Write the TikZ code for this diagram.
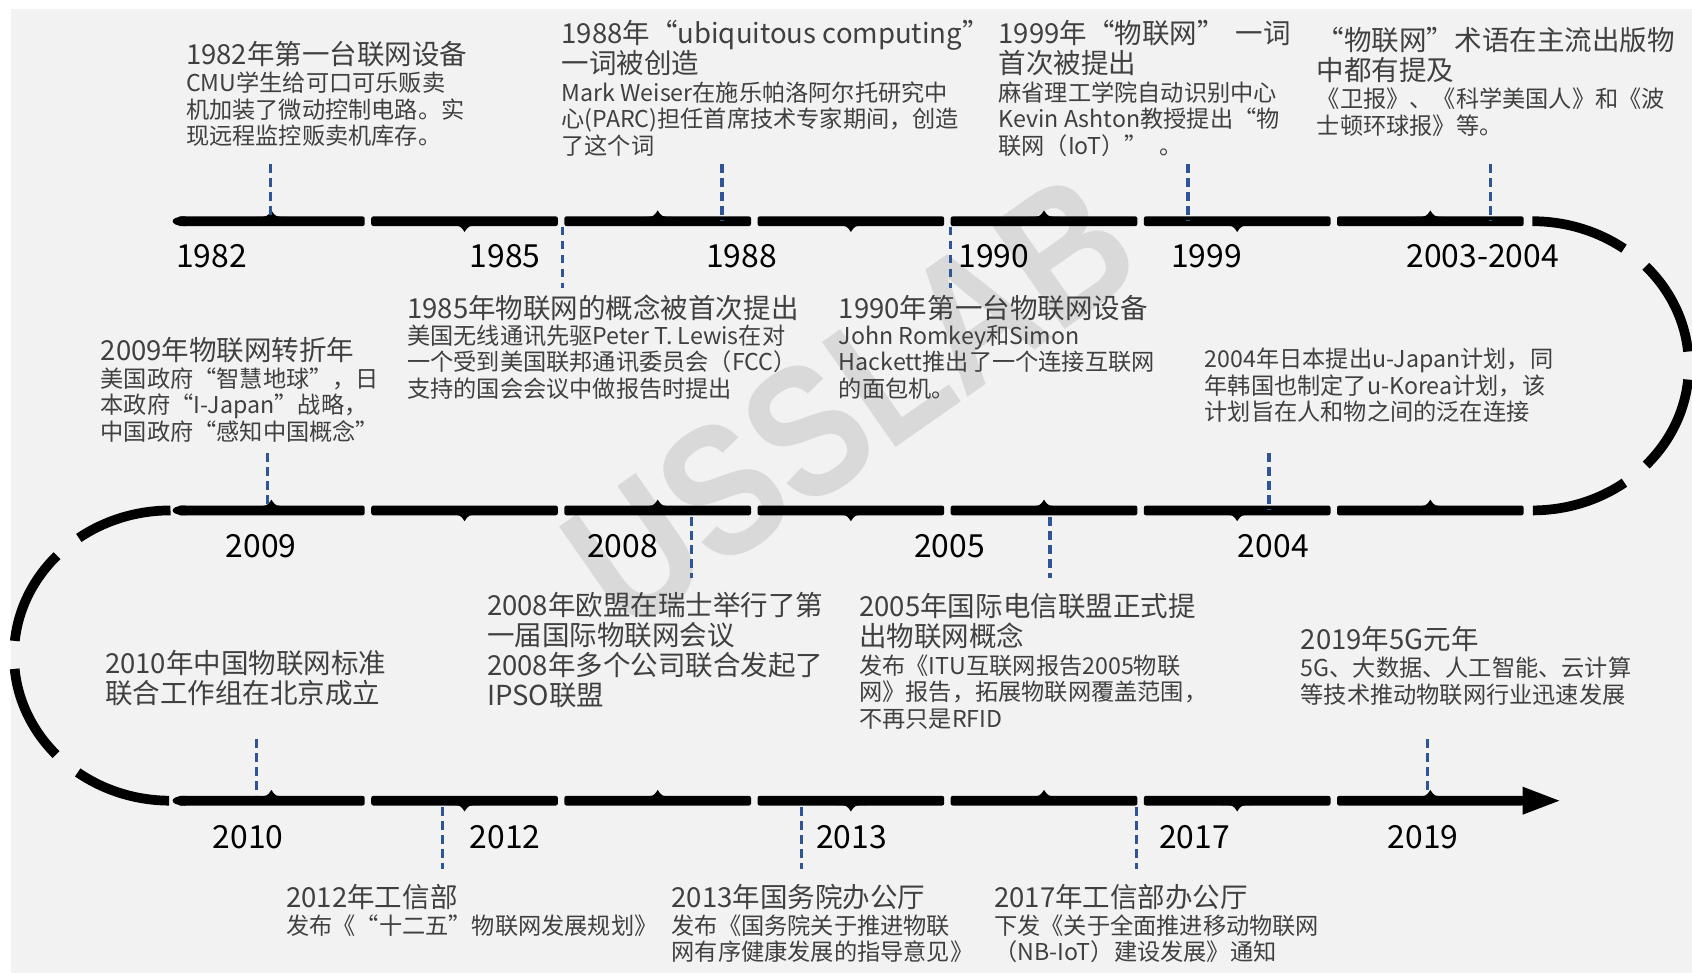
\documentclass[tikz,border=0pt]{standalone}
\usepackage{fontspec}
\setmainfont{Noto Sans CJK SC}
\newfontfamily\markfont{Liberation Sans}
\usetikzlibrary{positioning}

\definecolor{pagebg}{HTML}{F2F2F2}
\definecolor{txtgray}{HTML}{404040}
\definecolor{guideblue}{HTML}{2F5597}
\definecolor{markgray}{HTML}{D9D9D9}

% text blocks are placed by the baseline of their last line
\tikzset{
  evhead/.style={anchor=base west, align=left, inner sep=0pt, text=txtgray,
                 font=\fontsize{12.75}{14}\selectfont},
  evnote/.style={anchor=base west, align=left, inner sep=0pt, text=txtgray,
                 font=\fontsize{10.75}{12.25}\selectfont},
  yearlbl/.style={anchor=base, inner sep=0pt, font=\fontsize{14.75}{16}\selectfont},
  guide/.style={draw=guideblue, line width=1.5pt, dash pattern=on 4pt off 2.5pt},
  loopline/.style={draw=black, line width=4.5pt, dash pattern=on 45pt off 13pt},
}

\begin{document}
\begin{tikzpicture}[x=0.5pt, y=-0.5pt]
    \useasboundingbox (0,0) rectangle (1568,902);
    \fill[pagebg] (10,8) rectangle (1568,902);

    % watermark
    \node[rotate=35, yscale=1.2, text=markgray,
          font=\markfont\bfseries\fontsize{72}{72}\selectfont] (wm) at (788,372) {USSLAB};

    % the three rows of the time line, bumps alternate up / down
    \foreach \row in {205,473,742}{
        \foreach \k in {0,...,6}{
            \pgfmathsetmacro\xa{165+179*\k}
            \pgfmathsetmacro\xb{338+179*\k}
            \pgfmathsetmacro\xm{251.5+179*\k}
            \pgfmathsetmacro\ye{\row+4*(2*mod(\k,2)-1)}
            \pgfmathsetmacro\yt{\row+10*(2*mod(\k,2)-1)}
            \fill[rounded corners=1pt] (\xa,\row-4.5) rectangle (\xb,\row+4.5);
            \fill (\xm-14,\ye) .. controls (\xm-4,\ye) .. (\xm,\yt)
                  .. controls (\xm+4,\ye) .. (\xm+14,\ye) -- cycle;
        }
        \fill (172,\row-4.5) .. controls (163,\row-4.5) and (160,\row-2) .. (160,\row)
              .. controls (160,\row+2) and (163,\row+4.5) .. (172,\row+4.5) -- cycle;
    }

    % turns between the rows
    \coordinate (r1) at (1420,205);
    \coordinate (l2) at (158,473);
    \draw[loopline] (r1) arc[start angle=90, end angle=-90, x radius=72.5pt, y radius=67pt];
    \draw[loopline] (l2) arc[start angle=90, end angle=270, x radius=72.5pt, y radius=67.25pt];

    % arrow head
    \coordinate (tip) at (1445,742);
    \fill (1411,729) -- (tip) -- (1411,755) -- cycle;

    % years
    \foreach \x/\y/\t [count=\i] in {196/248/1982, 468/248/1985, 687/248/1988,
            921/248/1990, 1118/248/1999, 1374/248/2003-2004,
            242/517/2009, 577/517/2008, 880/517/2005, 1180/517/2004,
            230/786/2010, 468/786/2012, 789/786/2013, 1107/786/2017, 1319/786/2019}
        \node[yearlbl] (yr\i) at (\x,\y) {\t};

    % dashed guides
    \foreach \x/\ya/\yb [count=\i] in {251/152/200, 521/210/267, 669/152/205,
            881/210/267, 1101/152/205, 1381/152/205,
            248/420/468, 641/479/536, 973/479/536, 1176/420/473,
            238/685/737, 410/748/805, 743/748/805, 1053/748/805, 1323/685/737}{
        \coordinate (ga\i) at (\x,\ya);
        \coordinate (gb\i) at (\x,\yb);
        \draw[guide] (ga\i) -- (gb\i);
    }

    % row 1
    \node[evhead] (h1982) at (172,60) {1982年第一台联网设备};
    \node[evnote] (n1982) at (172,134) {CMU学生给可口可乐贩卖\\机加装了微动控制电路。实\\现远程监控贩卖机库存。};
    \node[evhead] (h1988) at (520,68) {1988年“ubiquitous computing”\\一词被创造};
    \node[evnote] (n1988) at (520,143) {Mark Weiser在施乐帕洛阿尔托研究中\\心(PARC)担任首席技术专家期间，创造\\了这个词};
    \node[evhead] (h1999) at (925,68) {1999年“物联网”\hspace{.4em}一词\\首次被提出};
    \node[evnote] (n1999) at (925,143) {麻省理工学院自动识别中心\\Kevin Ashton教授提出“物\\联网（IoT）”\hspace{.5em}。};
    \node[evhead] (h2003) at (1220,75) {“物联网”术语在主流出版物\\中都有提及};
    \node[evnote] (n2003) at (1220,124.5) {《卫报》、《科学美国人》和《波\\士顿环球报》等。};
    \node[evhead] (h1985) at (377,295) {1985年物联网的概念被首次提出};
    \node[evnote] (n1985) at (377,368) {美国无线通讯先驱Peter T. Lewis在对\\一个受到美国联邦通讯委员会（FCC）\\支持的国会会议中做报告时提出};
    \node[evhead] (h1990) at (777,295) {1990年第一台物联网设备};
    \node[evnote] (n1990) at (777,368) {John Romkey和Simon\\Hackett推出了一个连接互联网\\的面包机。};

    % row 2
    \node[evhead] (h2009) at (93,334) {2009年物联网转折年};
    \node[evnote] (n2009) at (93,408) {美国政府“智慧地球”，日\\本政府“I-Japan”战略，\\中国政府“感知中国概念”};
    \node[evnote] (n2004) at (1116,390) {2004年日本提出u-Japan计划，同\\年韩国也制定了u-Korea计划，该\\计划旨在人和物之间的泛在连接};
    \node[evhead] (h2008) at (451,654) {2008年欧盟在瑞士举行了第\\一届国际物联网会议\\2008年多个公司联合发起了\\IPSO联盟};
    \node[evhead] (h2005) at (796,599) {2005年国际电信联盟正式提\\出物联网概念};
    \node[evnote] (n2005) at (796,674) {发布《ITU互联网报告2005物联\\网》报告，拓展物联网覆盖范围，\\不再只是RFID};

    % row 3
    \node[evhead] (h2010) at (97,652) {2010年中国物联网标准\\联合工作组在北京成立};
    \node[evhead] (h2019) at (1205,602) {2019年5G元年};
    \node[evnote] (n2019) at (1205,651.5) {5G、大数据、人工智能、云计算\\等技术推动物联网行业迅速发展};
    \node[evhead] (h2012) at (265,841) {2012年工信部};
    \node[evnote] (n2012) at (265,866) {发布《“十二五”物联网发展规划》};
    \node[evhead] (h2013) at (622,841) {2013年国务院办公厅};
    \node[evnote] (n2013) at (622,890.5) {发布《国务院关于推进物联\\网有序健康发展的指导意见》};
    \node[evhead] (h2017) at (921,841) {2017年工信部办公厅};
    \node[evnote] (n2017) at (921,890.5) {下发《关于全面推进移动物联网\\（NB-IoT）建设发展》通知};
\end{tikzpicture}
\end{document}
